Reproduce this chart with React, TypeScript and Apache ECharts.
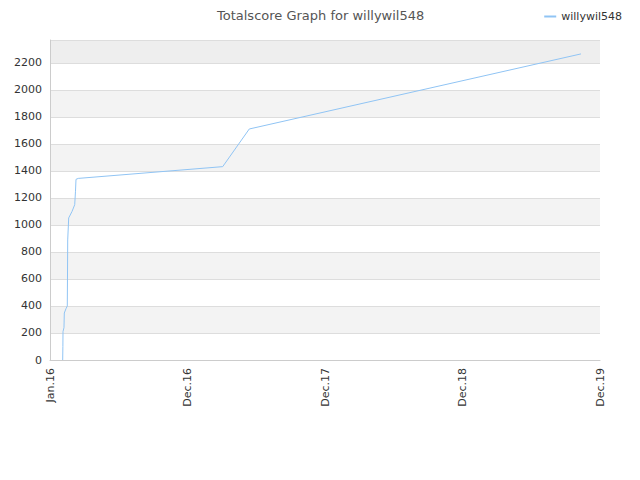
import React, { useEffect, useRef } from "react";
import * as echarts from "echarts";

const seriesName = "willywil548";
const titleText = "Totalscore Graph for willywil548";
// x in days-like units along an evenly labelled axis (0..1400)
const xValues = [32.3, 32.8, 33.1, 35.6, 36.4, 40.7, 44.0, 44.5, 45.1, 47.6, 56.0, 62.9, 64.9, 66.2, 72.0, 439.6, 507.3, 1351.6];
const yValues = [0, 100, 210, 240, 348, 380, 400, 600, 889, 1052, 1100, 1150, 1250, 1338, 1345, 1432, 1711, 2267];
const xTickLabels = ["Jan.16", "Dec.16", "Dec.17", "Dec.18", "Dec.19"];
const yMax = 2370;

export default function App() {
  const ref = useRef<HTMLDivElement>(null);
  useEffect(() => {
    const chart = echarts.init(ref.current!, undefined, { renderer: "svg" });
    const font = "DejaVu Sans";
    chart.setOption({
      animation: false,
      title: {
        text: titleText,
        left: 212,
        top: 4,
        textStyle: { fontFamily: font, fontSize: 13, fontWeight: "normal", color: "#555" },
      },
      legend: {
        right: 13,
        top: 6,
        itemWidth: 12,
        itemHeight: 2,
        itemGap: 8,
        icon: "rect",
        textStyle: { fontFamily: font, fontSize: 11, color: "#333" },
        data: [seriesName],
      },
      grid: { left: 50, right: 40, top: 40, bottom: 120, containLabel: false },
      xAxis: {
        type: "value",
        min: 0,
        max: 1400,
        interval: 350,
        axisLine: { show: true, lineStyle: { color: "#ccc" } },
        axisTick: { show: false },
        splitLine: { show: false },
        axisLabel: {
          rotate: 90,
          fontFamily: font,
          fontSize: 11,
          color: "#333",
          formatter: (v: number) => xTickLabels[Math.round(v / 350)] ?? "",
        },
      },
      yAxis: {
        type: "value",
        min: 0,
        max: yMax,
        interval: 200,
        axisLine: { show: true, lineStyle: { color: "#ccc" } },
        axisTick: { show: false },
        axisLabel: {
          fontFamily: font,
          fontSize: 11,
          color: "#333",
          formatter: (v: number) => (v % 200 === 0 ? String(v) : ""),
        },
        splitLine: { show: true, lineStyle: { color: "#ddd" } },
        splitArea: {
          show: true,
          areaStyle: {
            color: ["#ffffff", "#f3f3f3", "#ffffff", "#f3f3f3", "#ffffff", "#f3f3f3", "#ffffff", "#f3f3f3", "#ffffff", "#f3f3f3", "#ffffff", "#eeeeee"],
          },
        },
      },
      series: [
        {
          name: seriesName,
          type: "line",
          data: xValues.map((x, i) => [x, yValues[i]]),
          showSymbol: false,
          symbol: "none",
          lineStyle: { color: "#90c4f4", width: 1 },
          itemStyle: { color: "#90c4f4" },
        },
      ],
    });
    return () => chart.dispose();
  }, []);
  return <div ref={ref} style={{ width: 640, height: 480, position: "absolute", left: 0, top: 0 }} />;
}
